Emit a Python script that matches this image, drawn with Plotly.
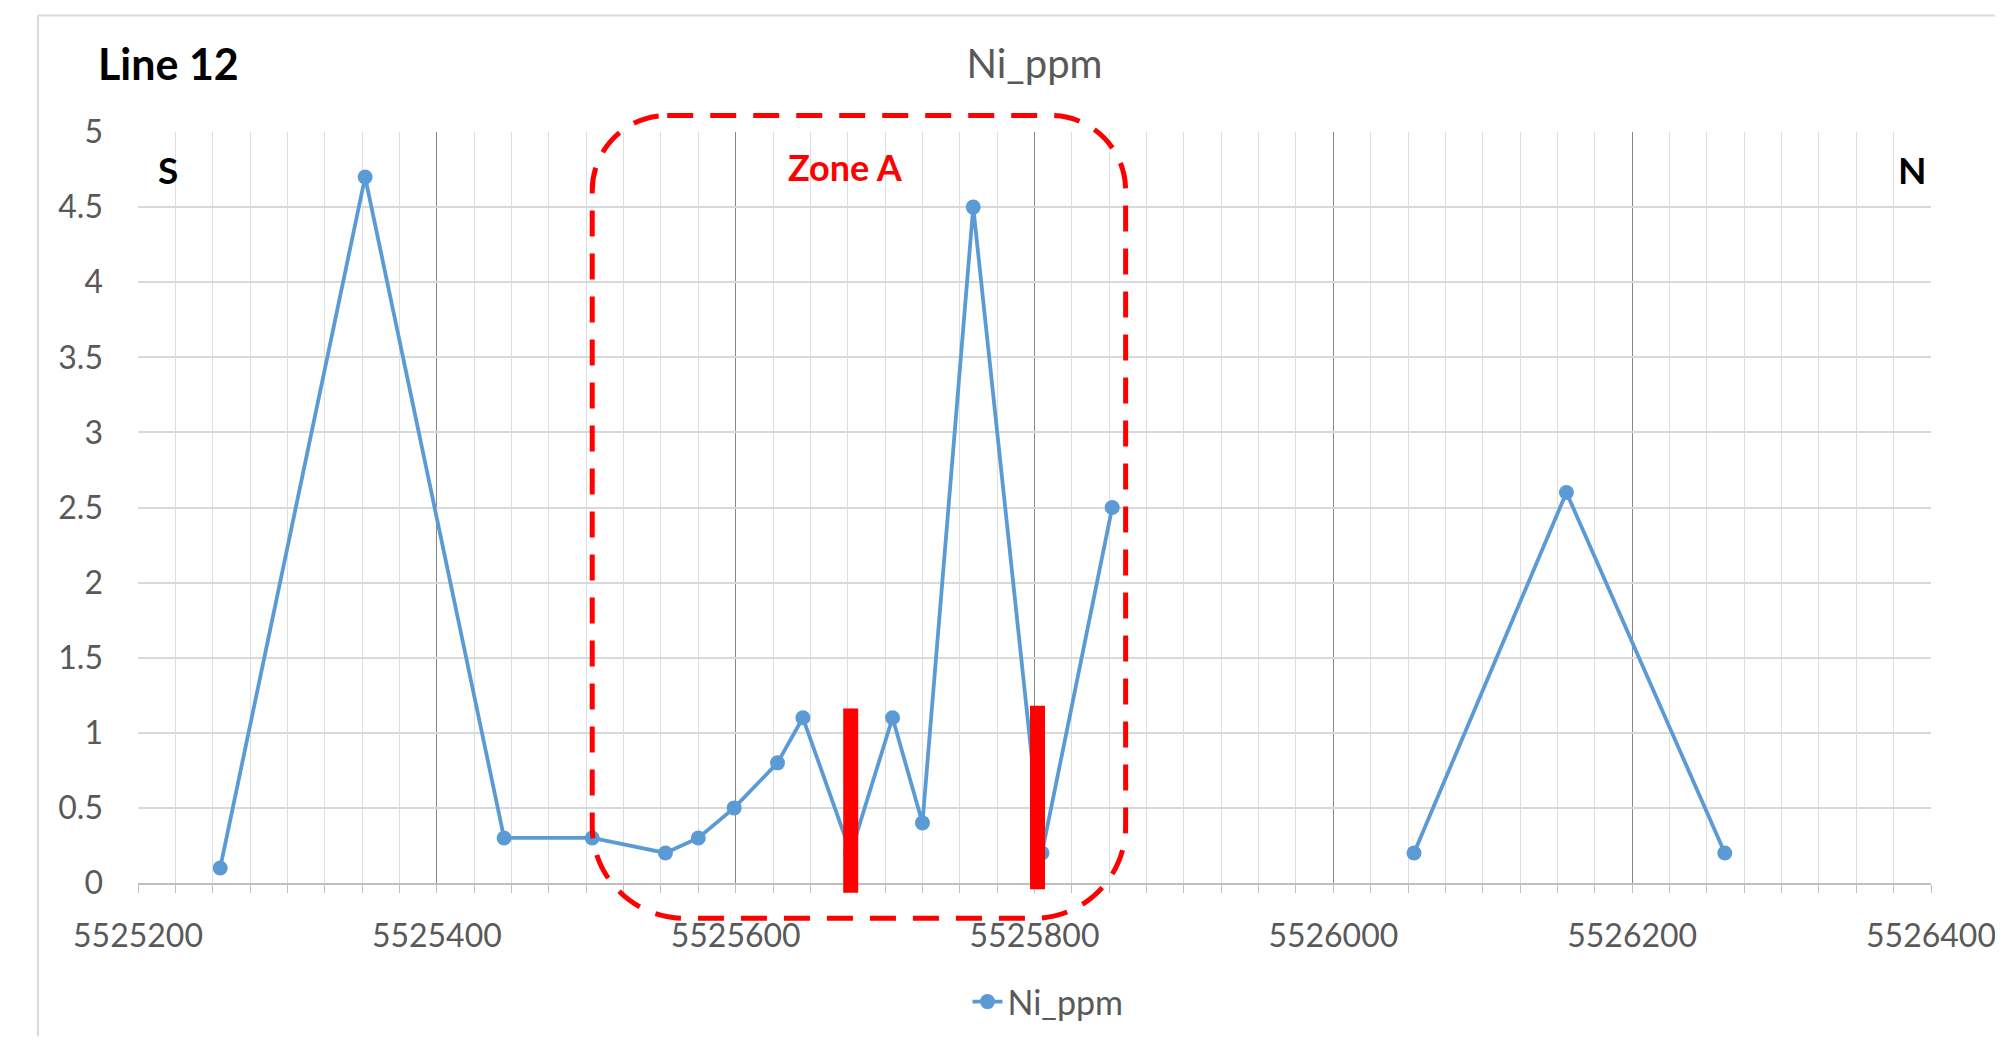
import plotly.graph_objects as go

# ---- data ----
northing = [5525255, 5525352, 5525445, 5525504, 5525553, 5525575, 5525599,
            5525628, 5525645, 5525677, 5525705, 5525725, 5525759, 5525805,
            5525852, None, 5526054, 5526156, 5526262]
ni_ppm = [0.1, 4.7, 0.3, 0.3, 0.2, 0.3, 0.5,
          0.8, 1.1, 0.2, 1.1, 0.4, 4.5, 0.2,
          2.5, None, 0.2, 2.6, 0.2]

x_ticks = [5525200, 5525400, 5525600, 5525800, 5526000, 5526200, 5526400]
y_ticks = [0, 0.5, 1, 1.5, 2, 2.5, 3, 3.5, 4, 4.5, 5]

# contact markers (red bars): x, bottom, top (in ppm units)
bar_x = [5525677, 5525802]
bar_bottom = [-0.065, -0.042]
bar_top = [1.162, 1.18]

# Zone A outline (data units)
zone_x0, zone_x1 = 5525504, 5525861
zone_y0, zone_y1 = -0.235, 5.11

# ---- geometry (page pixels; page body has an 8px margin) ----
OFF = 8
W, H = 2003, 1044
FW, FH = W - 2 * OFF, H - 2 * OFF
PLOT_L, PLOT_R, PLOT_T, PLOT_B = 138, 1931, 132, 883   # page px
ML = PLOT_L - OFF
MT = PLOT_T - OFF
PW = PLOT_R - PLOT_L
PH = PLOT_B - PLOT_T
MR = FW - ML - PW
MB = FH - MT - PH
XR = [5525200, 5526400]
YR = [0, 5]


def ypaper(v):
    return (v - YR[0]) / (YR[1] - YR[0])


def px2paper_x(px):
    return (px - PLOT_L) / PW


def px2paper_y(py):
    return (PLOT_B - py) / PH


def px2cont_y(py):
    return 1 - (py - OFF) / FH


def rx_data(px):
    return px * (XR[1] - XR[0]) / PW


def ry_paper(px):
    return px / PH


def rounded_rect(x0, x1, y0, y1, rxt, ryt, rxb, ryb):
    k = 0.5523
    p = []
    p.append(f"M {x0 + rxt},{y1}")
    p.append(f"L {x1 - rxt},{y1}")
    p.append(f"C {x1 - rxt + k * rxt},{y1} {x1},{y1 - ryt + k * ryt} {x1},{y1 - ryt}")
    p.append(f"L {x1},{y0 + ryb}")
    p.append(f"C {x1},{y0 + ryb - k * ryb} {x1 - rxb + k * rxb},{y0} {x1 - rxb},{y0}")
    p.append(f"L {x0 + rxb},{y0}")
    p.append(f"C {x0 + rxb - k * rxb},{y0} {x0},{y0 + ryb - k * ryb} {x0},{y0 + ryb}")
    p.append(f"L {x0},{y1 - ryt}")
    p.append(f"C {x0},{y1 - ryt + k * ryt} {x0 + rxt - k * rxt},{y1} {x0 + rxt},{y1}")
    p.append("Z")
    return " ".join(p)


FONT = "Lato"
GRAY = "#595959"

fig = go.Figure()
fig.add_trace(go.Scatter(
    x=northing, y=ni_ppm, mode="lines+markers", name="Ni_ppm",
    line=dict(color="#5b9bd5", width=3.8),
    marker=dict(color="#5b9bd5", size=15),
    connectgaps=False, showlegend=True,
))

shapes = []
# chart border (light gray, left and top)
bx = px2paper_x(38)
by = px2paper_y(15.5)
shapes.append(dict(type="line", xref="paper", yref="paper",
                   x0=bx, x1=bx, y0=px2paper_y(H + 20), y1=by,
                   line=dict(color="#d9d9d9", width=2)))
shapes.append(dict(type="line", xref="paper", yref="paper",
                   x0=bx, x1=px2paper_x(W + 20), y0=by, y1=by,
                   line=dict(color="#d9d9d9", width=2)))

# Zone A dashed rounded box
shapes.append(dict(
    type="path", xref="x", yref="paper", layer="above",
    path=rounded_rect(zone_x0, zone_x1, ypaper(zone_y0), ypaper(zone_y1),
                      rx_data(75), ry_paper(75), rx_data(92), ry_paper(92)),
    line=dict(color="#ff0000", width=5, dash="26px,17px"),
    fillcolor="rgba(0,0,0,0)",
))

# red contact bars
for bxv, b0, b1 in zip(bar_x, bar_bottom, bar_top):
    shapes.append(dict(type="line", xref="x", yref="paper", layer="above",
                       x0=bxv, x1=bxv, y0=ypaper(b0), y1=ypaper(b1),
                       line=dict(color="#ff0000", width=15)))

annotations = [
    dict(text="Line 12", xref="paper", yref="paper",
         x=px2paper_x(96), y=px2paper_y(64), xanchor="left", yanchor="middle",
         showarrow=False, font=dict(family=FONT, size=43, color="black", weight=700)),
    dict(text="S", xref="paper", yref="paper",
         x=px2paper_x(156), y=px2paper_y(170), xanchor="left", yanchor="middle",
         showarrow=False, font=dict(family=FONT, size=37, color="black", weight=700)),
    dict(text="N", xref="paper", yref="paper",
         x=px2paper_x(1929), y=px2paper_y(170), xanchor="right", yanchor="middle",
         showarrow=False, font=dict(family=FONT, size=37, color="black", weight=700)),
    dict(text="Zone A", xref="paper", yref="paper",
         x=px2paper_x(845.5), y=px2paper_y(167), xanchor="center", yanchor="middle",
         showarrow=False, font=dict(family=FONT, size=36, color="#ff0000", weight=700)),
]

fig.update_layout(
    width=FW, height=FH,
    margin=dict(l=ML, r=MR, t=MT, b=MB, autoexpand=False),
    paper_bgcolor="white", plot_bgcolor="white",
    font=dict(family=FONT, color=GRAY),
    title=dict(text="Ni_ppm", x=0.5, xref="paper", xanchor="center",
               y=px2cont_y(64), yanchor="middle",
               font=dict(family=FONT, size=40, color=GRAY)),
    showlegend=True,
    legend=dict(orientation="h", x=px2paper_x(1048), xanchor="center",
                yref="container", y=px2cont_y(1002), yanchor="middle",
                font=dict(family=FONT, size=34, color=GRAY),
                bgcolor="rgba(0,0,0,0)"),
    shapes=shapes,
    annotations=annotations,
)

fig.update_xaxes(
    range=XR, tickvals=x_ticks, ticktext=[str(v) for v in x_ticks],
    automargin=False,
    showgrid=True, gridcolor="#868686", gridwidth=1.3,
    ticks="outside", ticklen=8, tickcolor="#bfbfbf", tickwidth=1.3,
    tickfont=dict(family=FONT, size=32, color=GRAY),
    ticklabelstandoff=16, ticklabeloverflow="allow",
    showline=True, linecolor="#bfbfbf", linewidth=2,
    zeroline=False,
    minor=dict(dtick=25, tick0=5525200, showgrid=True, gridcolor="#dedede",
               gridwidth=1.3, ticks="outside", ticklen=8, tickcolor="#bfbfbf",
               tickwidth=1.3),
)
fig.update_yaxes(
    range=YR, tickvals=y_ticks, ticktext=[f"{v:g}" for v in y_ticks],
    automargin=False,
    showgrid=True, gridcolor="#d9d9d9", gridwidth=1.5,
    ticks="", tickfont=dict(family=FONT, size=32, color=GRAY),
    ticklabelstandoff=34,
    showline=False, zeroline=False,
)

fig.write_html("out.html")
